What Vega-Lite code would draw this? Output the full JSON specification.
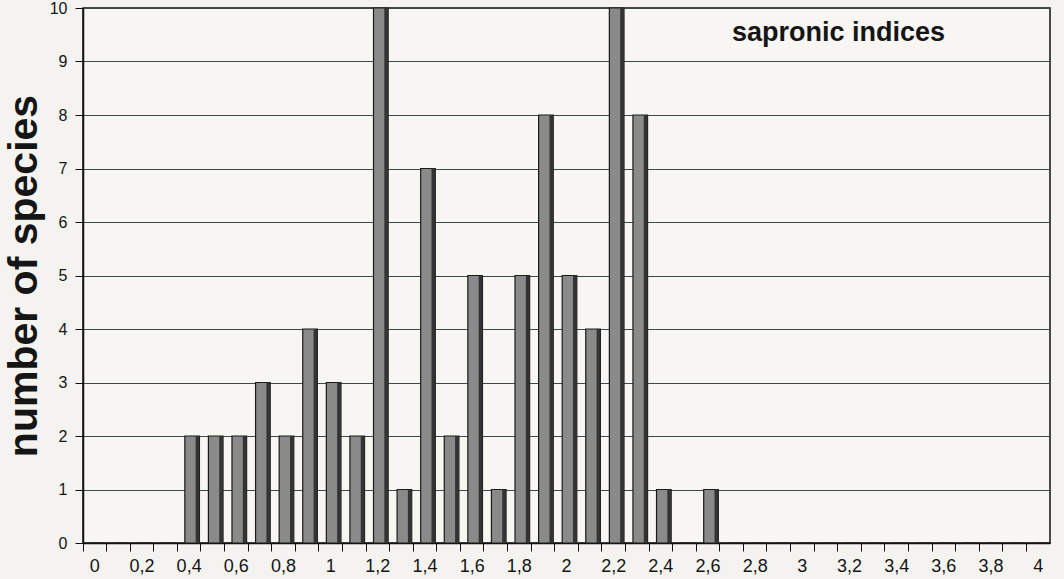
{
  "$schema": "https://vega.github.io/schema/vega-lite/v6.json",
  "width": 967,
  "height": 535,
  "autosize": {"type": "none"},
  "padding": {"left": 83, "top": 8, "right": 14, "bottom": 36},
  "background": "#f4f3ef",
  "title": {"text": "sapronic indices", "anchor": "end", "orient": "top", "offset": -47, "dx": -105, "fontSize": 27, "fontWeight": "bold", "font": "Liberation Sans", "color": "#151515"},
  "config": {"view": {"stroke": "#111111", "strokeWidth": 1.5, "fill": "#f7f6f2"}},
  "data": {"values": [
    {"index": 0, "species": 0}, {"index": 0.1, "species": 0}, {"index": 0.2, "species": 0}, {"index": 0.3, "species": 0},
    {"index": 0.4, "species": 2}, {"index": 0.5, "species": 2}, {"index": 0.6, "species": 2}, {"index": 0.7, "species": 3},
    {"index": 0.8, "species": 2}, {"index": 0.9, "species": 4}, {"index": 1, "species": 3}, {"index": 1.1, "species": 2},
    {"index": 1.2, "species": 10}, {"index": 1.3, "species": 1}, {"index": 1.4, "species": 7}, {"index": 1.5, "species": 2},
    {"index": 1.6, "species": 5}, {"index": 1.7, "species": 1}, {"index": 1.8, "species": 5}, {"index": 1.9, "species": 8},
    {"index": 2, "species": 5}, {"index": 2.1, "species": 4}, {"index": 2.2, "species": 10}, {"index": 2.3, "species": 8},
    {"index": 2.4, "species": 1}, {"index": 2.5, "species": 0}, {"index": 2.6, "species": 1}, {"index": 2.7, "species": 0},
    {"index": 2.8, "species": 0}, {"index": 2.9, "species": 0}, {"index": 3, "species": 0}, {"index": 3.1, "species": 0},
    {"index": 3.2, "species": 0}, {"index": 3.3, "species": 0}, {"index": 3.4, "species": 0}, {"index": 3.5, "species": 0},
    {"index": 3.6, "species": 0}, {"index": 3.7, "species": 0}, {"index": 3.8, "species": 0}, {"index": 3.9, "species": 0},
    {"index": 4, "species": 0}
  ]},
  "encoding": {
    "x": {
      "field": "index", "type": "ordinal", "sort": null,
      "scale": {"paddingInner": 0, "paddingOuter": 0},
      "axis": {
        "title": null, "labelAngle": 0, "bandPosition": 0,
        "labelExpr": "round(datum.value*10) % 2 == 0 ? replace('' + datum.value, '.', ',') : ''",
        "labelFont": "Liberation Sans", "labelFontSize": 18, "labelColor": "#151515",
        "tickSize": 8, "tickColor": "#111111", "domainColor": "#111111", "domainWidth": 1.5,
        "labelPadding": 6, "grid": false
      }
    },
    "y": {
      "field": "species", "type": "quantitative",
      "scale": {"domain": [0, 10]},
      "axis": {
        "title": "number of species", "titleFont": "Liberation Sans", "titleFontSize": 41, "titleFontWeight": "bold", "titleColor": "#151515",
        "titlePadding": 4,
        "tickCount": 10, "labelFont": "Liberation Sans", "labelFontSize": 16, "labelColor": "#151515",
        "tickSize": 8, "tickColor": "#111111", "domainColor": "#111111", "domainWidth": 1.5,
        "labelPadding": 8,
        "grid": true, "gridColor": "#3d4a4a", "gridWidth": 1.2, "gridOpacity": 1
      }
    }
  },
  "layer": [
    {"mark": {"type": "bar", "width": {"band": 0.62}, "xOffset": 3, "fill": "#8a8a8a", "stroke": "#1a1a1a", "strokeWidth": 1.2}},
    {"mark": {"type": "bar", "width": {"band": 0.16}, "xOffset": 8.4, "fill": "#333333"}}
  ]
}
